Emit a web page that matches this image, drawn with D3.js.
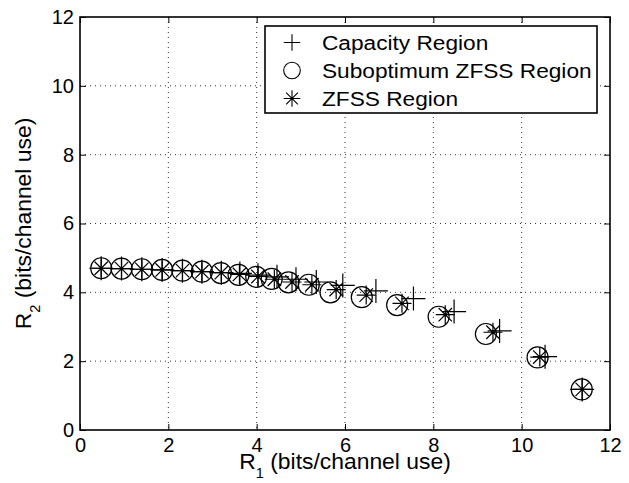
<!DOCTYPE html>
<html>
<head>
<meta charset="utf-8">
<style>
    body { margin: 0; background: #fff; }
    svg { font-family: 'Liberation Sans', Arial, Helvetica, sans-serif; }
</style>
</head>
<body>
<svg width="629" height="483"></svg>
<script src="https://d3js.org/d3.v7.min.js"></script>
<script>
// capacity region (+)
let capR1 = [0.48, 0.94, 1.40, 1.86, 2.32, 2.76, 3.20, 3.62, 4.03, 4.46, 4.89, 5.35, 5.95, 6.70, 7.55, 8.47, 9.50, 10.53, 11.37]
let capR2 = [4.70, 4.69, 4.67, 4.65, 4.63, 4.60, 4.57, 4.55, 4.50, 4.45, 4.38, 4.30, 4.20, 4.04, 3.82, 3.44, 2.88, 2.13, 1.18]

// suboptimum ZFSS region (o)
let subR1 = [0.48, 0.94, 1.40, 1.86, 2.32, 2.76, 3.19, 3.59, 3.99, 4.34, 4.72, 5.18, 5.67, 6.38, 7.18, 8.12, 9.19, 10.36, 11.36]
let subR2 = [4.70, 4.69, 4.67, 4.65, 4.63, 4.60, 4.56, 4.51, 4.45, 4.39, 4.29, 4.22, 4.00, 3.86, 3.63, 3.29, 2.79, 2.11, 1.18]

// ZFSS region (*)
let zfR1 = [0.48, 0.94, 1.40, 1.86, 2.32, 2.76, 3.20, 3.61, 4.03, 4.40, 4.80, 5.25, 5.80, 6.48, 7.29, 8.27, 9.35, 10.41, 11.37]
let zfR2 = [4.70, 4.69, 4.67, 4.65, 4.63, 4.60, 4.57, 4.52, 4.46, 4.38, 4.30, 4.22, 4.08, 3.92, 3.68, 3.35, 2.84, 2.12, 1.18]

let ticks = [0, 2, 4, 6, 8, 10, 12]
let legendLabels = ["Capacity Region", "Suboptimum ZFSS Region", "ZFSS Region"]

let svg = d3.select("svg")
let pl = 80, pr = 610, pt = 17, pb = 430

let x = d3.scaleLinear().domain([0, 12]).range([pl, pr])
let y = d3.scaleLinear().domain([0, 12]).range([pb, pt])

// dotted grid
let grid = svg.append("g")
grid.selectAll(".gx")
    .data(ticks.slice(1, -1))
    .join("line")
    .attr("class", "gx")
    .attr("x1", d => x(d)).attr("x2", d => x(d))
    .attr("y1", pt).attr("y2", pb)
grid.selectAll(".gy")
    .data(ticks.slice(1, -1))
    .join("line")
    .attr("class", "gy")
    .attr("y1", d => y(d)).attr("y2", d => y(d))
    .attr("x1", pl).attr("x2", pr)
grid.selectAll("line")
    .attr("stroke", "#333")
    .attr("stroke-width", 1)
    .attr("stroke-dasharray", "1,4")

// axes, inward ticks on all four sides
let fs = "20px"
svg.append("g")
    .attr("transform", `translate(0,${pb})`)
    .call(d3.axisBottom(x).tickValues(ticks).tickSizeInner(-6).tickSizeOuter(0).tickPadding(8))
    .call(g => g.selectAll("text").attr("font-size", fs).attr("fill", "#000"))
svg.append("g")
    .attr("transform", `translate(${pl},0)`)
    .call(d3.axisLeft(y).tickValues(ticks).tickSizeInner(-6).tickSizeOuter(0).tickPadding(6))
    .call(g => g.selectAll("text").attr("font-size", fs).attr("fill", "#000"))
svg.append("g")
    .attr("transform", `translate(0,${pt})`)
    .call(d3.axisTop(x).tickValues(ticks).tickSizeInner(-6).tickSizeOuter(0).tickFormat(""))
svg.append("g")
    .attr("transform", `translate(${pr},0)`)
    .call(d3.axisRight(y).tickValues(ticks).tickSizeInner(-6).tickSizeOuter(0).tickFormat(""))
svg.selectAll(".domain").remove()
svg.selectAll("g[font-family]").attr("font-family", null)
svg.selectAll(".tick line").attr("stroke", "#000").attr("stroke-width", 1)

svg.append("rect")
    .attr("x", pl).attr("y", pt)
    .attr("width", pr - pl).attr("height", pb - pt)
    .attr("fill", "none").attr("stroke", "#000").attr("stroke-width", 1.6)

// axis labels
let xl = svg.append("text")
    .attr("transform", `translate(${(pl + pr) / 2},469) scale(1.04,1)`)
    .attr("text-anchor", "middle").attr("font-size", "22px")
xl.append("tspan").text("R")
xl.append("tspan").text("1").attr("font-size", "14px").attr("dy", 9)
xl.append("tspan").text(" (bits/channel use)").attr("dy", -9)

let yl = svg.append("text")
    .attr("transform", `translate(31,${(pt + pb) / 2}) rotate(-90) scale(1.04,1)`)
    .attr("text-anchor", "middle").attr("font-size", "22px")
yl.append("tspan").text("R")
yl.append("tspan").text("2").attr("font-size", "14px").attr("dy", 9)
yl.append("tspan").text(" (bits/channel use)").attr("dy", -9)

// marker helpers
function plus(g, s) {
    g.append("path").attr("d", `M${-s},0H${s}M0,${-s}V${s}`)
}
function ring(g, s) {
    g.append("circle").attr("r", s)
}
function star(g, s) {
    let d = s * 0.7071
    g.append("path").attr("d", `M${-s},0H${s}M0,${-s}V${s}M${-d},${-d}L${d},${d}M${-d},${d}L${d},${-d}`)
    g.append("circle").attr("r", 1.2).attr("fill", "#000").attr("stroke", "none")
}

function series(r1, r2, draw, s) {
    let g = svg.append("g")
        .attr("fill", "none").attr("stroke", "#000").attr("stroke-width", 1.2)
    g.selectAll("g")
        .data(d3.zip(r1, r2))
        .join("g")
        .attr("transform", d => `translate(${x(d[0])},${y(d[1])})`)
        .each(function () { draw(d3.select(this), s) })
}

series(capR1, capR2, plus, 12)
series(subR1, subR2, ring, 10.5)
series(zfR1, zfR2, star, 9.5)

// legend
let lg = svg.append("g")
lg.append("rect")
    .attr("x", 265).attr("y", 26).attr("width", 332).attr("height", 87)
    .attr("fill", "#fff").attr("stroke", "#000").attr("stroke-width", 1.6)
let draws = [plus, ring, star]
legendLabels.forEach((t, i) => {
    let cy = 42.5 + i * 28
    let m = lg.append("g")
        .attr("transform", `translate(292,${cy})`)
        .attr("fill", "none").attr("stroke", "#000").attr("stroke-width", 1.1)
    draws[i](m, 8.3)
    lg.append("text")
        .attr("transform", `translate(322,${cy + 7.5}) scale(1.08,1)`)
        .attr("font-size", "21px")
        .text(t)
})
</script>
</body>
</html>
